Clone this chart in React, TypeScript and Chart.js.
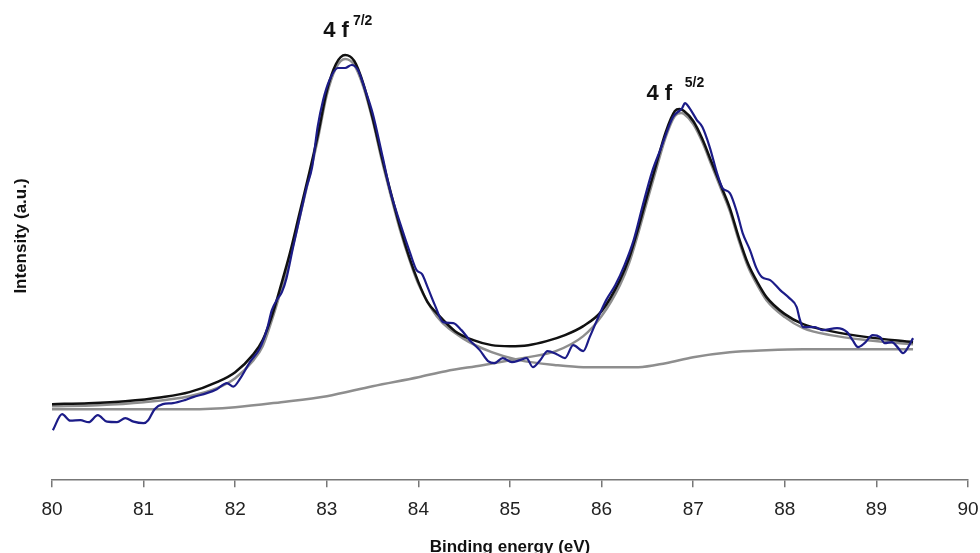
import React, { useEffect, useRef } from "react";
import { Chart, registerables } from "chart.js";

Chart.register(...registerables);

// Tick labels on the binding-energy axis (eV)
const xTicks = [80, 81, 82, 83, 84, 85, 86, 87, 88, 89, 90];

// Measured spectrum (blue)
const dataX = [
  80.01, 80.11, 80.2, 80.31, 80.4, 80.5, 80.6, 80.71, 80.8, 80.89, 81.0, 81.05, 81.12, 81.21, 81.32, 81.45,
  81.54, 81.69, 81.8, 81.91, 81.98, 82.05, 82.16, 82.27, 82.35, 82.4, 82.46, 82.51, 82.56, 82.63, 82.73,
  82.78, 82.84, 82.9, 82.96, 83.03, 83.12, 83.2, 83.27, 83.34, 83.42, 83.5, 83.61, 83.69, 83.8, 83.91,
  83.98, 84.04, 84.1, 84.18, 84.27, 84.38, 84.47, 84.56, 84.67, 84.76, 84.83, 84.92, 85.02, 85.11, 85.18,
  85.25, 85.33, 85.41, 85.51, 85.6, 85.69, 85.8, 85.87, 85.95, 86.05, 86.15, 86.25, 86.35, 86.45, 86.55,
  86.64, 86.78, 86.88, 86.91, 86.96, 87.04, 87.1, 87.18, 87.26, 87.32, 87.4, 87.48, 87.54, 87.62, 87.69,
  87.75, 87.84, 87.95, 88.05, 88.13, 88.16, 88.2, 88.24, 88.33, 88.41, 88.57, 88.68, 88.74, 88.8, 88.87,
  88.96, 89.04, 89.09, 89.17, 89.23, 89.29, 89.34, 89.4,
];
const dataY = [
  10.0, 13.2, 11.9, 12.0, 11.6, 13.0, 11.7, 11.6, 12.4, 11.7, 11.4, 12.0, 14.2, 15.2, 15.4, 16.0,
  16.6, 17.4, 18.2, 19.4, 18.7, 20.2, 23.6, 26.4, 30.4, 34.0, 36.2, 37.6, 40.4, 46.4, 54.6,
  58.6, 62.6, 70.6, 76.0, 80.0, 82.4, 82.4, 83.0, 82.0, 78.0, 73.4, 64.6, 58.0, 51.4, 45.4,
  42.0, 41.2, 38.6, 35.0, 31.6, 31.4, 30.0, 28.0, 26.0, 23.8, 23.4, 24.4, 23.6, 24.0, 24.4,
  22.6, 24.0, 25.8, 25.2, 24.4, 27.0, 25.8, 28.6, 32.0, 36.0, 39.0, 43.0, 48.0, 55.0, 61.6,
  66.0, 72.6, 74.4, 75.4, 74.4, 72.0, 70.6, 66.6, 61.4, 58.4, 57.4, 53.4, 49.4, 46.0, 42.4,
  40.6, 40.0, 38.0, 36.4, 34.6, 32.4, 30.6, 30.6, 30.6, 30.0, 30.4, 29.6, 28.0, 26.6, 27.4,
  29.0, 28.6, 27.4, 27.6, 26.6, 25.4, 26.4, 28.4,
];

// Fitted envelope (black)
const fitX = [
  80.0, 80.4, 80.8, 81.2, 81.5, 81.8, 82.0, 82.2, 82.3, 82.4, 82.5, 82.6, 82.7, 82.8, 82.9, 83.0, 83.1,
  83.2, 83.3, 83.4, 83.5, 83.6, 83.7, 83.8, 83.9, 84.0, 84.1, 84.2, 84.4, 84.6, 84.8, 85.0, 85.2, 85.4,
  85.6, 85.8, 86.0, 86.2, 86.3, 86.4, 86.5, 86.6, 86.7, 86.8, 86.85, 86.9, 87.0, 87.1, 87.2, 87.3, 87.4,
  87.5, 87.6, 87.7, 87.8, 88.0, 88.2, 88.5, 88.9, 89.4,
];
const fitY = [
  15.2, 15.4, 15.8, 16.6, 17.6, 19.6, 21.6, 25.2, 28.0, 32.8, 39.0, 45.6, 53.2, 60.8, 68.8, 77.8, 83.2,
  85.0, 83.8, 79.2, 72.4, 64.6, 57.4, 50.6, 44.6, 39.6, 35.6, 33.4, 29.8, 28.0, 27.0, 26.8, 27.0, 27.8,
  29.0, 30.8, 33.8, 40.0, 44.4, 50.4, 57.0, 63.4, 69.6, 73.8, 74.2, 73.8, 71.8, 68.2, 63.6, 59.0, 54.4,
  48.4, 43.2, 39.6, 36.6, 33.2, 31.2, 29.8, 28.6, 27.6,
];

// 4f 7/2 component on background (grey)
const comp1X = [
  80.0, 80.5, 81.0, 81.5, 81.8, 82.0, 82.2, 82.3, 82.4, 82.5, 82.6, 82.7, 82.8, 82.9, 83.0, 83.1, 83.2,
  83.3, 83.4, 83.5, 83.6, 83.7, 83.8, 83.9, 84.0, 84.2, 84.5, 84.8, 85.1, 85.5, 85.8, 86.4, 86.7, 87.0,
  87.4, 87.8, 88.2, 89.4,
];
const comp1Y = [
  14.8, 15.0, 15.6, 16.8, 18.4, 20.4, 24.0, 26.8, 32.0, 38.0, 44.6, 52.2, 60.0, 68.0, 77.0, 82.4, 84.2,
  83.0, 78.6, 72.0, 64.0, 56.8, 50.0, 44.2, 39.2, 32.8, 28.2, 25.6, 24.0, 23.0, 22.6, 22.6, 23.4, 24.6,
  25.6, 26.0, 26.2, 26.2,
];

// 4f 5/2 component on background (grey)
const comp2X = [
  80.0, 81.0, 81.5, 82.0, 82.5, 83.0, 83.5, 84.0, 84.3, 84.7, 85.0, 85.2, 85.5, 85.8, 86.0, 86.2, 86.3,
  86.4, 86.5, 86.6, 86.7, 86.8, 86.87, 86.9, 87.0, 87.1, 87.2, 87.3, 87.4, 87.5, 87.6, 87.7, 87.8, 88.0,
  88.2, 88.5, 88.9, 89.4,
];
const comp2Y = [
  14.2, 14.2, 14.2, 14.6, 15.6, 16.8, 18.8, 20.6, 21.8, 23.0, 24.0, 24.6, 25.8, 28.8, 32.8, 39.0, 43.4,
  49.4, 56.0, 62.4, 68.6, 72.8, 73.4, 73.2, 71.2, 67.6, 63.0, 58.4, 53.8, 47.8, 42.6, 39.0, 36.0, 32.6,
  30.4, 29.0, 28.0, 27.2,
];

// Peak annotations
const peakText = ["4 f", "4 f"];
const peakTextX = [82.96, 86.49];
const peakTextY = [88.6, 76.0];
const peakSup = ["7/2", "5/2"];
const peakSupX = [83.285, 86.908];
const peakSupY = [91.0, 78.6];

const pts = (xs: number[], ys: number[]) => xs.map((x, i) => ({ x, y: ys[i] }));

const FONT = "'Liberation Sans', Arial, Helvetica, sans-serif";

const textPlugin = {
  id: "xpsText",
  afterDraw(chart: any) {
    const { ctx, scales } = chart;
    const xs = scales.x;
    const ys = scales.y;
    ctx.save();
    ctx.fillStyle = "#111";
    ctx.textBaseline = "alphabetic";
    ctx.textAlign = "left";
    for (let i = 0; i < peakText.length; i++) {
      ctx.font = `bold 22px ${FONT}`;
      ctx.fillText(peakText[i], xs.getPixelForValue(peakTextX[i]), ys.getPixelForValue(peakTextY[i]));
      ctx.font = `bold 14px ${FONT}`;
      ctx.fillText(peakSup[i], xs.getPixelForValue(peakSupX[i]), ys.getPixelForValue(peakSupY[i]));
    }
    // axis titles
    ctx.font = `bold 17px ${FONT}`;
    ctx.textAlign = "center";
    ctx.textBaseline = "middle";
    ctx.fillText("Binding energy (eV)", (chart.chartArea.left + chart.chartArea.right) / 2, 547);
    ctx.translate(21, 236);
    ctx.rotate(-Math.PI / 2);
    ctx.fillText("Intensity (a.u.)", 0, 0);
    ctx.restore();
  },
};

export default function App() {
  const ref = useRef<HTMLCanvasElement | null>(null);
  useEffect(() => {
    document.body.style.margin = "0";
    const canvas = ref.current;
    if (!canvas) return;
    const line = (data: any, color: string, width: number, order: number) => ({
      data,
      showLine: true,
      borderColor: color,
      backgroundColor: color,
      borderWidth: width,
      pointRadius: 0,
      cubicInterpolationMode: "monotone" as const,
      fill: false,
      order,
    });
    const chart = new Chart(canvas, {
      type: "scatter",
      data: {
        datasets: [
          line(pts(dataX, dataY), "#1c1c88", 2.2, 0),
          line(pts(fitX, fitY), "#111111", 2.5, 1),
          line(pts(comp1X, comp1Y), "#8e8e8e", 2.5, 2),
          line(pts(comp2X, comp2Y), "#8e8e8e", 2.5, 3),
        ],
      },
      options: {
        responsive: false,
        animation: false,
        layout: { padding: { left: 52, right: 12, top: 30, bottom: 21 } },
        plugins: { legend: { display: false }, tooltip: { enabled: false } },
        scales: {
          x: {
            type: "linear",
            min: 80,
            max: 90,
            afterBuildTicks: (s: any) => {
              s.ticks = xTicks.map((v) => ({ value: v }));
            },
            afterFit: (s: any) => {
              s.paddingLeft = 0;
              s.paddingRight = 0;
            },
            grid: { drawOnChartArea: false, drawTicks: true, tickLength: 7, color: "#777", lineWidth: 1.5 },
            border: { display: true, color: "#777", width: 1.5 },
            ticks: {
              font: { family: FONT, size: 19 },
              color: "#222",
              padding: 11,
              maxRotation: 0,
              autoSkip: false,
            },
          },
          y: { display: false, min: 0, max: 90 },
        },
      },
      plugins: [textPlugin],
    });
    return () => chart.destroy();
  }, []);
  return (
    <div style={{ width: 980, height: 553 }}>
      <canvas ref={ref} width={980} height={553} style={{ display: "block" }} />
    </div>
  );
}
